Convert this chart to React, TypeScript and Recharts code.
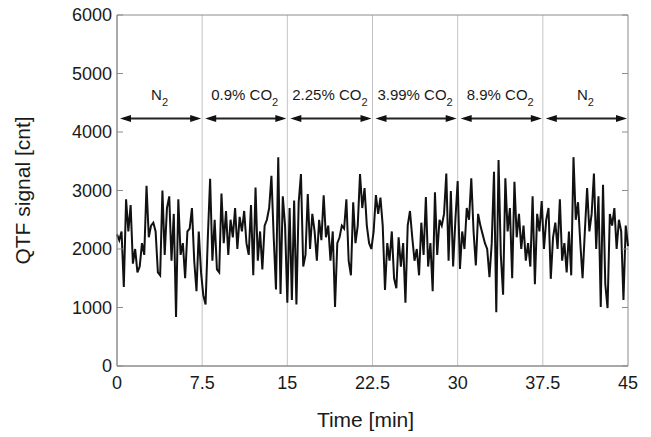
import {
  CartesianGrid,
  Line,
  LineChart,
  ReferenceArea,
  ReferenceLine,
  XAxis,
  YAxis,
} from "recharts";

// sample spacing 0.2 min, 0 .. 45 min
const STEP = 0.2;

const signal: number[] = [
  // 0 - 7.5 min, N2
  2250, 2150, 2300, 1350, 2850, 2300, 2750, 1750, 2000, 1600, 1700, 2100, 1900, 3080, 2200, 2400, 2450, 2300, 1600, 1550,
  3000, 1900, 2700, 2900, 1800, 2600, 840, 2850, 1900, 2100, 1500, 2300, 2350, 2700, 1800, 1280, 2300, 1600,
  // 7.5 - 15 min, 0.9% CO2
  1210, 1050, 2200, 3200, 1800, 2500, 1650, 1600, 2950, 2100, 2650, 1900, 2500, 2200, 2700, 2000, 2550, 2300, 2650, 2100,
  1900, 2750, 1550, 3050, 1800, 2300, 1650, 2400, 2500, 2700, 3250, 2200, 1310, 3570, 1230, 2900, 2400, 1080,
  // 15 - 22.5 min, 2.25% CO2
  2700, 1130, 2830, 1050, 2800, 3280, 1700, 1900, 2940, 2000, 2600, 2300, 1800, 2500, 2150, 2920, 2200, 2400, 1800, 2300,
  1010, 2100, 2200, 2400, 2350, 2850, 1800, 1550, 2800, 2100, 2400, 3280, 2700, 3040, 2400, 2100, 2000, 2300,
  // 22.5 - 30 min, 3.99% CO2
  2920, 2600, 2880, 2400, 1300, 2100, 1800, 2300, 1500, 1330, 2200, 1700, 2100, 1080, 2400, 2650, 2200, 1800, 2000, 1550,
  2450, 1900, 2890, 1700, 2100, 1280, 2970, 1900, 2500, 2400, 2600, 3290, 1800, 2990, 1700, 2500, 3160,
  // 30 - 37.5 min, 8.9% CO2
  1660, 2300, 2000, 2700, 2500, 3210, 2300, 1720, 2600, 2400, 2250, 2100, 2000, 1520, 2100, 3320, 920, 3520, 1900, 1220,
  3210, 2300, 2700, 1500, 3150, 2200, 2600, 2000, 2400, 1800, 2100, 1700, 2900, 1400, 2600, 2300, 2820, 2000,
  // 37.5 - 45 min, N2
  2500, 2700, 1490, 2200, 2450, 2000, 2850, 1800, 2100, 1600, 2300, 1550, 3570, 2500, 2800, 2100, 1500, 2300, 3040, 2300,
  2600, 3290, 2000, 2900, 1010, 3100, 1400, 990, 2600, 2400, 2700, 2000, 2500, 2300, 1130, 2400, 2050,
];

const xTicks = [0, 7.5, 15, 22.5, 30, 37.5, 45];
const yTicks = [0, 1000, 2000, 3000, 4000, 5000, 6000];

const sectionBounds = [0, 7.5, 15, 22.5, 30, 37.5, 45];
const sectionMain = ["N", "0.9% CO", "2.25% CO", "3.99% CO", "8.9% CO", "N"];
const sectionSub = ["2", "2", "2", "2", "2", "2"];
const arrowLevel = 4230;

const data = signal.map((v, i) => ({ t: +(i * STEP).toFixed(2), v }));

const W = 651;
const H = 437;
const PLOT_LEFT = 117;
const PLOT_RIGHT = 628;
const PLOT_TOP = 15;
const PLOT_BOTTOM = 366;
const FONT = "'Liberation Sans', Arial, sans-serif";
const FRAME = "#8c8c8c";

const YTick = (props: any) => {
  const { y, payload } = props;
  return (
    <g>
      <text x={112} y={y + 6} textAnchor="end" fontSize={18} fontFamily={FONT} fill="#1a1a1a">
        {payload.value}
      </text>
      <line x1={PLOT_LEFT} x2={PLOT_LEFT + 6} y1={y} y2={y} stroke={FRAME} />
      <line x1={PLOT_RIGHT - 6} x2={PLOT_RIGHT} y1={y} y2={y} stroke={FRAME} />
    </g>
  );
};

const XTick = (props: any) => {
  const { x, payload } = props;
  return (
    <text x={x} y={PLOT_BOTTOM + 23} textAnchor="middle" fontSize={18} fontFamily={FONT} fill="#1a1a1a">
      {payload.value}
    </text>
  );
};

const makeArrow = (idx: number) => (props: any) => {
  const { x1, x2, y1 } = props;
  const a = x1 + 3;
  const b = x2 - 1;
  const y = y1;
  const hl = 11;
  const hw = 3.5;
  const mid = (x1 + x2) / 2;
  return (
    <g>
      <line x1={a + 4} x2={b - 4} y1={y} y2={y} stroke="#222" strokeWidth={2} />
      <polygon points={`${a},${y} ${a + hl},${y - hw} ${a + hl},${y + hw}`} fill="#111" />
      <polygon points={`${b},${y} ${b - hl},${y - hw} ${b - hl},${y + hw}`} fill="#111" />
      <text x={mid} y={y - 19} textAnchor="middle" fontSize={15} fontFamily={FONT} fill="#1a1a1a">
        {sectionMain[idx]}
        <tspan fontSize={11} dy={6}>
          {sectionSub[idx]}
        </tspan>
      </text>
    </g>
  );
};

export default function App() {
  return (
    <div style={{ position: "absolute", left: 0, top: 0, width: W, height: H, background: "#fff" }}>
      <LineChart
        width={W}
        height={H}
        data={data}
        margin={{ top: PLOT_TOP, right: W - PLOT_RIGHT, left: 0, bottom: 0 }}
      >
        <CartesianGrid horizontal={false} stroke="#c4c4c4" verticalValues={[7.5, 15, 22.5, 30, 37.5]} />
        <XAxis
          dataKey="t"
          type="number"
          domain={[0, 45]}
          ticks={xTicks}
          interval={0}
          height={H - PLOT_BOTTOM}
          axisLine={{ stroke: FRAME }}
          tickLine={false}
          tick={<XTick />}
          label={{
            content: (p: any) => (
              <text
                x={p.viewBox.x + p.viewBox.width / 2 - 7}
                y={p.viewBox.y + 61}
                textAnchor="middle"
                fontSize={21}
                fontFamily={FONT}
                fill="#1a1a1a"
              >
                Time [min]
              </text>
            ),
          }}
        />
        <YAxis
          type="number"
          domain={[0, 6000]}
          ticks={yTicks}
          interval={0}
          width={PLOT_LEFT}
          axisLine={{ stroke: FRAME }}
          tickLine={false}
          tick={<YTick />}
          label={{
            content: (p: any) => {
              const cx = p.viewBox.x + 30;
              const cy = p.viewBox.y + p.viewBox.height / 2;
              return (
                <text
                  x={cx}
                  y={cy}
                  transform={`rotate(-90 ${cx} ${cy})`}
                  textAnchor="middle"
                  fontSize={21}
                  fontFamily={FONT}
                  fill="#1a1a1a"
                >
                  QTF signal [cnt]
                </text>
              );
            },
          }}
        />
        <ReferenceArea x1={0} x2={45} y1={0} y2={6000} fill="none" stroke={FRAME} strokeWidth={1} />
        {sectionMain.map((_, i) => (
          <ReferenceLine
            key={i}
            segment={[
              { x: sectionBounds[i], y: arrowLevel },
              { x: sectionBounds[i + 1], y: arrowLevel },
            ]}
            shape={makeArrow(i)}
          />
        ))}
        <Line
          type="linear"
          dataKey="v"
          stroke="#111"
          strokeWidth={2}
          dot={false}
          isAnimationActive={false}
        />
      </LineChart>
    </div>
  );
}
